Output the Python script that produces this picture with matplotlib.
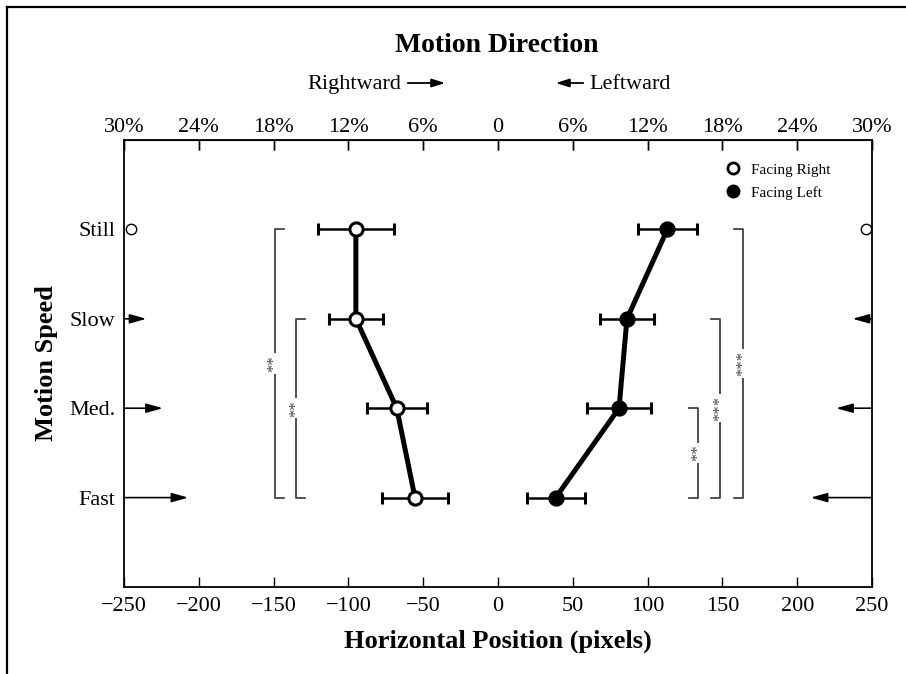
import matplotlib
matplotlib.use("Agg")
import matplotlib.pyplot as plt
from matplotlib.lines import Line2D

plt.rcParams['font.family'] = ['Liberation Serif', 'DejaVu Serif']
plt.rcParams['mathtext.fontset'] = 'stix'

# ---- data ----
speeds = ["Still", "Slow", "Med.", "Fast"]
speed_pos = [1, 2, 3, 4]
right_mean = [-95.0, -95.0, -67.7, -55.5]
right_err = [25.5, 17.8, 20.1, 22.3]
left_mean = [113.2, 86.2, 80.9, 38.6]
left_err = [19.6, 18.0, 21.7, 19.5]

# motion arrows (Slow, Med., Fast) measured from the plot edges
arrow_speeds = [2, 3, 4]
arrow_len_from_left = [15, 26, 43]
arrow_len_from_right = [13, 24, 41]
still_marker_x = [-245, 246]

# significance brackets: x, y_from, y_to, label, tick direction
brackets_x = [-149.3, -135.2, 134.0, 148.4, 163.6]
brackets_from = [1, 2, 3, 2, 1]
brackets_to = [4, 4, 4, 4, 4]
brackets_label = ["**", "**", "**", "***", "***"]
brackets_dir = [1, 1, -1, -1, -1]

bottom_ticks = [-250, -200, -150, -100, -50, 0, 50, 100, 150, 200, 250]
top_labels = ["30%", "24%", "18%", "12%", "6%", "0", "6%", "12%", "18%", "24%", "30%"]

# ---- figure ----
fig = plt.figure(figsize=(9.06, 6.74), dpi=100)
ax = fig.add_axes([124/906, 1-587/674, 748/906, 447/674])

ax.set_xlim(-250, 250)
ax.set_ylim(5, 0)

# main series
ax.errorbar(right_mean, speed_pos, xerr=right_err, color='black', lw=3.6,
            elinewidth=1.8, capsize=4, capthick=2, marker='o', ms=9.5,
            mfc='white', mec='black', mew=2.2, zorder=4)
ax.errorbar(left_mean, speed_pos, xerr=left_err, color='black', lw=3.6,
            elinewidth=1.8, capsize=4, capthick=2, marker='o', ms=9.5,
            mfc='black', mec='black', mew=2.2, zorder=4)

# still markers at edges
ax.plot(still_marker_x, [1, 1], 'o', ms=7.5, mfc='white', mec='black',
        mew=1.0, clip_on=False, zorder=5)

# motion arrows
astyle = '-|>,head_length=1.0,head_width=0.28'
for y, ll, lr in zip(arrow_speeds, arrow_len_from_left, arrow_len_from_right):
    ax.annotate("", xy=(-250 + ll, y), xytext=(-250, y),
                arrowprops=dict(arrowstyle=astyle, color='black', lw=1.2,
                                shrinkA=0, shrinkB=0))
    ax.annotate("", xy=(250 - lr, y), xytext=(250, y),
                arrowprops=dict(arrowstyle=astyle, color='black', lw=1.2,
                                shrinkA=0, shrinkB=0))

# significance brackets
tick_len = 6
for bx, y0, y1, lab, d in zip(brackets_x, brackets_from, brackets_to,
                              brackets_label, brackets_dir):
    ax.plot([bx + d*tick_len, bx, bx, bx + d*tick_len], [y0, y0, y1, y1],
            color='#333333', lw=1.2, zorder=2)
    ax.text(bx, (y0 + y1)/2, lab, rotation=90, ha='center', va='center',
            fontsize=12, color='#444444', zorder=3,
            bbox=dict(boxstyle='square,pad=0.1', fc='white', ec='none'))

# axes styling
for s in ax.spines.values():
    s.set_linewidth(1.3)
ax.set_xticks(bottom_ticks)
ax.set_xticklabels([f"{t}".replace('-', '\u2212') for t in bottom_ticks])
ax.tick_params(axis='x', direction='in', length=7, width=1, labelsize=16, pad=7,
               top=True)
ax.set_yticks(speed_pos)
ax.set_yticklabels(speeds)
ax.tick_params(axis='y', length=0, labelsize=16, pad=6)

ax_top = ax.secondary_xaxis('top')
ax_top.set_xticks(bottom_ticks)
ax_top.set_xticklabels(top_labels)
ax_top.tick_params(direction='in', length=7, width=1, labelsize=16, pad=2.5)

ax.set_xlabel("Horizontal Position (pixels)", fontsize=19, fontweight='bold',
              labelpad=10)
ax.set_ylabel("Motion Speed", fontsize=19, fontweight='bold', labelpad=8)

# legend
handles = [Line2D([], [], ls='none', marker='o', ms=8, mfc='white', mec='black', mew=2),
           Line2D([], [], ls='none', marker='o', ms=8, mfc='black', mec='black', mew=2)]
ax.legend(handles, ["Facing Right", "Facing Left"], loc='upper left',
          bbox_to_anchor=(0.785, 0.962), frameon=False, fontsize=11,
          handletextpad=0.2, labelspacing=0.6, borderaxespad=0)

# header text
fig.text(497/906, 1-52/674, "Motion Direction", ha='center', va='baseline',
         fontsize=20, fontweight='bold')
fig.text(401/906, 1-89/674, "Rightward", ha='right', va='baseline', fontsize=16)
fig.text(589/906, 1-89/674, "Leftward", ha='left', va='baseline', fontsize=16)
hstyle = '-|>,head_length=0.8,head_width=0.25'
fig.add_artist(matplotlib.patches.FancyArrowPatch(
    (405/906, 1-83/674), (448/906, 1-83/674), transform=fig.transFigure,
    arrowstyle=hstyle, mutation_scale=10, color='black', lw=1.3))
fig.add_artist(matplotlib.patches.FancyArrowPatch(
    (586/906, 1-83/674), (553/906, 1-83/674), transform=fig.transFigure,
    arrowstyle=hstyle, mutation_scale=10, color='black', lw=1.3))

# frame (left and top edges)
fig.add_artist(Line2D([7/906, 7/906], [0, 1-7/674], color='black', lw=1.6,
                      transform=fig.transFigure))
fig.add_artist(Line2D([7/906, 1], [1-7/674, 1-7/674], color='black', lw=1.6,
                      transform=fig.transFigure))

fig.savefig("out.png", dpi=100)
